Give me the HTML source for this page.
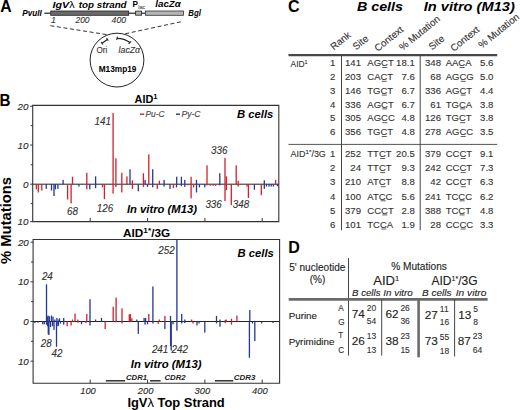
<!DOCTYPE html>
<html><head><meta charset="utf-8"><style>
html,body{margin:0;padding:0;background:#fff;}
svg{display:block;font-family:"Liberation Sans", sans-serif;}
</style></head><body>
<svg width="520" height="410" viewBox="0 0 520 410">
<rect width="520" height="410" fill="#fff"/>
<text x="0.2" y="12" font-size="15.6" font-weight="bold" textLength="11.4" lengthAdjust="spacingAndGlyphs">A</text>
<text x="22.2" y="16.2" font-size="8.2" font-weight="bold" font-style="italic" textLength="19.5" lengthAdjust="spacingAndGlyphs">PvuII</text>
<line x1="44.4" y1="13.2" x2="50.5" y2="13.2" stroke="#222" stroke-width="1.2"/>
<rect x="50.7" y="11" width="78" height="4.3" fill="#6a6a6a" stroke="#222" stroke-width="0.8"/>
<line x1="128.7" y1="13.2" x2="135.6" y2="13.2" stroke="#222" stroke-width="1.2"/>
<rect x="135.6" y="11.1" width="6" height="4.1" fill="#b0b0b0" stroke="#222" stroke-width="0.8"/>
<line x1="141.6" y1="13.2" x2="145.3" y2="13.2" stroke="#222" stroke-width="1.2"/>
<rect x="145.4" y="11" width="38" height="4.3" fill="#b4b4b4" stroke="#333" stroke-width="0.8"/>
<text x="188.3" y="15.8" font-size="8.2" font-weight="bold" font-style="italic" textLength="12.5" lengthAdjust="spacingAndGlyphs">Bgl</text>
<text x="52.5" y="8.1" font-size="9.6" font-weight="bold" font-style="italic" textLength="22" lengthAdjust="spacingAndGlyphs">IgV<tspan font-weight="normal" font-style="normal" stroke-width="0">λ</tspan></text>
<text x="78.8" y="8.1" font-size="9.6" font-weight="bold" font-style="italic" textLength="47.8" lengthAdjust="spacingAndGlyphs">top strand</text>
<text x="132.4" y="7.2" font-size="8.5" font-weight="bold" textLength="5.5" lengthAdjust="spacingAndGlyphs">P</text>
<text x="138.3" y="8.6" font-size="5" stroke="#555" stroke-width="0.12" fill="#555" textLength="7" lengthAdjust="spacingAndGlyphs">lac</text>
<text x="155.3" y="7.4" font-size="9.6" font-weight="bold" font-style="italic" textLength="25.6" lengthAdjust="spacingAndGlyphs">lacZα</text>
<text x="51" y="23.4" font-size="8.8" stroke="#333" stroke-width="0.12" font-style="italic" fill="#333">1</text>
<text x="75.5" y="23.4" font-size="8.8" stroke="#333" stroke-width="0.12" font-style="italic" fill="#333" textLength="14" lengthAdjust="spacingAndGlyphs">200</text>
<text x="111.6" y="23.4" font-size="8.8" stroke="#333" stroke-width="0.12" font-style="italic" fill="#333" textLength="14.4" lengthAdjust="spacingAndGlyphs">400</text>
<line x1="50.4" y1="25.7" x2="106.8" y2="34.6" stroke="#333" stroke-width="1" stroke-dasharray="4 2.6"/>
<line x1="180.8" y1="21.8" x2="124.6" y2="33.9" stroke="#333" stroke-width="1" stroke-dasharray="4 2.6"/>
<circle cx="117" cy="60.1" r="26.9" fill="none" stroke="#222" stroke-width="1"/>
<text x="96.5" y="53" font-size="8.8" stroke="#333" stroke-width="0.12" fill="#333" textLength="10.8" lengthAdjust="spacingAndGlyphs">Ori</text>
<text x="118.6" y="53" font-size="8.8" stroke="#333" stroke-width="0.12" font-style="italic" fill="#333" textLength="21.5" lengthAdjust="spacingAndGlyphs">lacZα</text>
<text x="98.7" y="72" font-size="8.5" font-weight="bold" textLength="37.8" lengthAdjust="spacingAndGlyphs">M13mp19</text>
<path d="M102 43.3 L107.4 39.4" stroke="#222" stroke-width="1.2" fill="none"/>
<path d="M101.1 42.1 L102.9 44.5 M106.5 38.2 L108.3 40.6" stroke="#222" stroke-width="1.1" fill="none"/>
<path d="M117 38.3 Q124 38.2 130 42.6" stroke="#222" stroke-width="1.25" fill="none"/>
<path d="M117.4 36.6 L116.7 40" stroke="#222" stroke-width="1.1" fill="none"/>
<path d="M128.6 43.9 L131.2 41.4" stroke="#222" stroke-width="1.1" fill="none"/>
<text x="-0.6" y="106" font-size="15.6" font-weight="bold" textLength="11" lengthAdjust="spacingAndGlyphs">B</text>
<text x="134.6" y="102.6" font-size="10" font-weight="bold" textLength="23" lengthAdjust="spacingAndGlyphs">AID<tspan font-size="7" dy="-3.5">1</tspan></text>
<text x="237" y="118.3" font-size="11" font-weight="bold" font-style="italic" textLength="36.3" lengthAdjust="spacingAndGlyphs">B cells</text>
<line x1="140" y1="114.2" x2="144.3" y2="114.2" stroke="#d2202e" stroke-width="1.4"/>
<text x="145.5" y="117.2" font-size="8.5" stroke="#444" stroke-width="0.12" font-style="italic" fill="#444" textLength="19" lengthAdjust="spacingAndGlyphs">Pu-C</text>
<line x1="176" y1="114.2" x2="180" y2="114.2" stroke="#25379a" stroke-width="1.4"/>
<text x="181.5" y="117.2" font-size="8.5" stroke="#444" stroke-width="0.12" font-style="italic" fill="#444" textLength="19" lengthAdjust="spacingAndGlyphs">Py-C</text>
<text x="126.9" y="213" font-size="10.5" font-weight="bold" font-style="italic" textLength="70" lengthAdjust="spacingAndGlyphs">In vitro (M13)</text>
<path d="M32.7 105.4 L278.8 105.4 L278.8 221.6 L32.7 221.6 Z" stroke="#333" stroke-width="1.1" fill="none"/>
<path d="M33.1 239.5 L279.6 239.5 L279.6 383.2 L33.1 383.2 Z" stroke="#333" stroke-width="1.1" fill="none"/>
<line x1="30.200000000000003" y1="106.2" x2="32.7" y2="106.2" stroke="#333" stroke-width="1"/>
<text x="28.400000000000002" y="109.60000000000001" font-size="9.8" stroke="#2a2a2a" stroke-width="0.12" font-style="italic" fill="#2a2a2a" text-anchor="end">20</text>
<line x1="30.700000000000003" y1="125.6" x2="32.7" y2="125.6" stroke="#333" stroke-width="1"/>
<line x1="30.200000000000003" y1="145.1" x2="32.7" y2="145.1" stroke="#333" stroke-width="1"/>
<text x="28.400000000000002" y="148.5" font-size="9.8" stroke="#2a2a2a" stroke-width="0.12" font-style="italic" fill="#2a2a2a" text-anchor="end">10</text>
<line x1="30.700000000000003" y1="164.8" x2="32.7" y2="164.8" stroke="#333" stroke-width="1"/>
<line x1="30.200000000000003" y1="184.2" x2="32.7" y2="184.2" stroke="#333" stroke-width="1"/>
<text x="28.400000000000002" y="187.6" font-size="9.8" stroke="#2a2a2a" stroke-width="0.12" font-style="italic" fill="#2a2a2a" text-anchor="end">0</text>
<line x1="30.700000000000003" y1="203.6" x2="32.7" y2="203.6" stroke="#333" stroke-width="1"/>
<line x1="30.200000000000003" y1="221.6" x2="32.7" y2="221.6" stroke="#333" stroke-width="1"/>
<text x="28.400000000000002" y="225.0" font-size="9.8" stroke="#2a2a2a" stroke-width="0.12" font-style="italic" fill="#2a2a2a" text-anchor="end">10</text>
<line x1="30.6" y1="242.2" x2="33.1" y2="242.2" stroke="#333" stroke-width="1"/>
<text x="28.8" y="245.6" font-size="9.8" stroke="#2a2a2a" stroke-width="0.12" font-style="italic" fill="#2a2a2a" text-anchor="end">20</text>
<line x1="31.1" y1="262" x2="33.1" y2="262" stroke="#333" stroke-width="1"/>
<line x1="30.6" y1="281.8" x2="33.1" y2="281.8" stroke="#333" stroke-width="1"/>
<text x="28.8" y="285.2" font-size="9.8" stroke="#2a2a2a" stroke-width="0.12" font-style="italic" fill="#2a2a2a" text-anchor="end">10</text>
<line x1="31.1" y1="301.6" x2="33.1" y2="301.6" stroke="#333" stroke-width="1"/>
<line x1="30.6" y1="321.5" x2="33.1" y2="321.5" stroke="#333" stroke-width="1"/>
<text x="28.8" y="324.9" font-size="9.8" stroke="#2a2a2a" stroke-width="0.12" font-style="italic" fill="#2a2a2a" text-anchor="end">0</text>
<line x1="31.1" y1="341.3" x2="33.1" y2="341.3" stroke="#333" stroke-width="1"/>
<line x1="30.6" y1="361.2" x2="33.1" y2="361.2" stroke="#333" stroke-width="1"/>
<text x="28.8" y="364.59999999999997" font-size="9.8" stroke="#2a2a2a" stroke-width="0.12" font-style="italic" fill="#2a2a2a" text-anchor="end">10</text>
<line x1="90.2" y1="221.6" x2="90.2" y2="218" stroke="#333" stroke-width="1"/>
<line x1="90.2" y1="383.2" x2="90.2" y2="379.6" stroke="#333" stroke-width="1"/>
<line x1="147.6" y1="221.6" x2="147.6" y2="218" stroke="#333" stroke-width="1"/>
<line x1="147.6" y1="383.2" x2="147.6" y2="379.6" stroke="#333" stroke-width="1"/>
<line x1="204.9" y1="221.6" x2="204.9" y2="218" stroke="#333" stroke-width="1"/>
<line x1="204.9" y1="383.2" x2="204.9" y2="379.6" stroke="#333" stroke-width="1"/>
<line x1="262.2" y1="221.6" x2="262.2" y2="218" stroke="#333" stroke-width="1"/>
<line x1="262.2" y1="383.2" x2="262.2" y2="379.6" stroke="#333" stroke-width="1"/>
<text x="88" y="394" font-size="9.3" stroke="#2a2a2a" stroke-width="0.12" font-style="italic" fill="#2a2a2a" text-anchor="middle" textLength="15.6" lengthAdjust="spacingAndGlyphs">100</text>
<text x="145.6" y="394" font-size="9.3" stroke="#2a2a2a" stroke-width="0.12" font-style="italic" fill="#2a2a2a" text-anchor="middle" textLength="15.6" lengthAdjust="spacingAndGlyphs">200</text>
<text x="202.4" y="394" font-size="9.3" stroke="#2a2a2a" stroke-width="0.12" font-style="italic" fill="#2a2a2a" text-anchor="middle" textLength="15.6" lengthAdjust="spacingAndGlyphs">300</text>
<text x="259.8" y="394" font-size="9.3" stroke="#2a2a2a" stroke-width="0.12" font-style="italic" fill="#2a2a2a" text-anchor="middle" textLength="15.6" lengthAdjust="spacingAndGlyphs">400</text>
<line x1="32.7" y1="184.2" x2="278.8" y2="184.2" stroke="#222" stroke-width="1"/>
<line x1="33.1" y1="321.5" x2="279.6" y2="321.5" stroke="#222" stroke-width="1"/>
<text x="123.1" y="236.5" font-size="10" font-weight="bold" textLength="47" lengthAdjust="spacingAndGlyphs">AID<tspan font-size="7" dy="-3.5">1*</tspan><tspan dy="3.5">/3G</tspan></text>
<text x="237.5" y="257" font-size="11" font-weight="bold" font-style="italic" textLength="36.3" lengthAdjust="spacingAndGlyphs">B cells</text>
<text x="130.8" y="367.5" font-size="10.5" font-weight="bold" font-style="italic" textLength="70.7" lengthAdjust="spacingAndGlyphs">In vitro (M13)</text>
<line x1="105.8" y1="380.8" x2="125" y2="380.8" stroke="#222" stroke-width="1.4"/>
<text x="126" y="380.2" font-size="8" font-weight="bold" font-style="italic" fill="#222" textLength="21" lengthAdjust="spacingAndGlyphs">CDR1</text>
<line x1="150" y1="380.8" x2="160.6" y2="380.8" stroke="#222" stroke-width="1.4"/>
<text x="164.4" y="380.2" font-size="8" font-weight="bold" font-style="italic" fill="#222" textLength="21.2" lengthAdjust="spacingAndGlyphs">CDR2</text>
<line x1="215" y1="380.8" x2="233.3" y2="380.8" stroke="#222" stroke-width="1.4"/>
<text x="233.8" y="380.2" font-size="8" font-weight="bold" font-style="italic" fill="#222" textLength="21.6" lengthAdjust="spacingAndGlyphs">CDR3</text>
<text x="127.4" y="407.2" font-size="12.4" font-weight="bold" textLength="97.3" lengthAdjust="spacingAndGlyphs">IgV<tspan font-weight="normal" stroke-width="0.3">λ</tspan> Top Strand</text>
<text x="11" y="264" font-size="14.5" font-weight="bold" textLength="87" lengthAdjust="spacingAndGlyphs" transform="rotate(-90 11 264)">% Mutations</text>
<text x="287.9" y="12.4" font-size="15.6" font-weight="bold" textLength="11.6" lengthAdjust="spacingAndGlyphs">C</text>
<text x="356.9" y="10.8" font-size="13" font-weight="bold" font-style="italic" textLength="46.1" lengthAdjust="spacingAndGlyphs">B cells</text>
<text x="423.8" y="10.6" font-size="13" font-weight="bold" font-style="italic" textLength="91" lengthAdjust="spacingAndGlyphs">In vitro (M13)</text>
<text x="333.8" y="50.5" font-size="9.8" stroke="#333" stroke-width="0.12" fill="#333" transform="rotate(-39 333.8 50.5)">Rank</text>
<text x="356" y="50.4" font-size="9.8" stroke="#333" stroke-width="0.12" fill="#333" transform="rotate(-39 356 50.4)">Site</text>
<text x="377.8" y="52" font-size="9.8" stroke="#333" stroke-width="0.12" fill="#333" transform="rotate(-39 377.8 52)">Context</text>
<text x="402.6" y="51" font-size="9.8" stroke="#333" stroke-width="0.12" fill="#333" transform="rotate(-39 402.6 51)">% Mutation</text>
<text x="432" y="50.4" font-size="9.8" stroke="#333" stroke-width="0.12" fill="#333" transform="rotate(-39 432 50.4)">Site</text>
<text x="453.8" y="52" font-size="9.8" stroke="#333" stroke-width="0.12" fill="#333" transform="rotate(-39 453.8 52)">Context</text>
<text x="481.8" y="48.8" font-size="9.8" stroke="#333" stroke-width="0.12" fill="#333" transform="rotate(-39 481.8 48.8)">% Mutation</text>
<line x1="288.5" y1="55.2" x2="497.2" y2="55.2" stroke="#484848" stroke-width="2.3"/>
<line x1="288.5" y1="144.4" x2="497.2" y2="144.4" stroke="#555" stroke-width="1"/>
<line x1="341.5" y1="55.3" x2="341.5" y2="230.2" stroke="#444" stroke-width="1"/>
<line x1="420.2" y1="55.3" x2="420.2" y2="230.2" stroke="#444" stroke-width="1"/>
<text x="290.6" y="67" font-size="8.5" stroke="#333" stroke-width="0.12" fill="#333" textLength="17" lengthAdjust="spacingAndGlyphs">AID<tspan font-size="5.5" dy="-3.2">1</tspan></text>
<text x="290.6" y="157.2" font-size="8.5" stroke="#333" stroke-width="0.12" fill="#333" textLength="35.2" lengthAdjust="spacingAndGlyphs">AID<tspan font-size="6" dy="-3.2">1*</tspan><tspan dy="3.2">/3G</tspan></text>
<text x="335.4" y="66.2" font-size="9.6" stroke="#333" stroke-width="0.12" fill="#333" text-anchor="end">1</text>
<text x="361" y="66.2" font-size="9.6" stroke="#333" stroke-width="0.12" fill="#333" text-anchor="end">141</text>
<text x="367.3" y="66.2" font-size="9.5" stroke="#333" stroke-width="0.12" fill="#333">AGCT</text>
<line x1="382.33" y1="67.5" x2="387.29" y2="67.5" stroke="#333" stroke-width="0.8"/>
<text x="414.8" y="66.2" font-size="9.6" stroke="#333" stroke-width="0.12" fill="#333" text-anchor="end">18.1</text>
<text x="441" y="66.2" font-size="9.6" stroke="#333" stroke-width="0.12" fill="#333" text-anchor="end">348</text>
<text x="445.7" y="66.2" font-size="9.5" stroke="#333" stroke-width="0.12" fill="#333">AACA</text>
<line x1="459.67" y1="67.5" x2="464.63" y2="67.5" stroke="#333" stroke-width="0.8"/>
<text x="493.4" y="66.2" font-size="9.6" stroke="#333" stroke-width="0.12" fill="#333" text-anchor="end">5.6</text>
<text x="335.4" y="80.0" font-size="9.6" stroke="#333" stroke-width="0.12" fill="#333" text-anchor="end">2</text>
<text x="361" y="80.0" font-size="9.6" stroke="#333" stroke-width="0.12" fill="#333" text-anchor="end">203</text>
<text x="367.3" y="80.0" font-size="9.5" stroke="#333" stroke-width="0.12" fill="#333">CACT</text>
<line x1="381.8" y1="81.3" x2="386.75" y2="81.3" stroke="#333" stroke-width="0.8"/>
<text x="414.8" y="80.0" font-size="9.6" stroke="#333" stroke-width="0.12" fill="#333" text-anchor="end">7.6</text>
<text x="441" y="80.0" font-size="9.6" stroke="#333" stroke-width="0.12" fill="#333" text-anchor="end">68</text>
<text x="445.7" y="80.0" font-size="9.5" stroke="#333" stroke-width="0.12" fill="#333">AGCG</text>
<line x1="460.73" y1="81.3" x2="465.69" y2="81.3" stroke="#333" stroke-width="0.8"/>
<text x="493.4" y="80.0" font-size="9.6" stroke="#333" stroke-width="0.12" fill="#333" text-anchor="end">5.0</text>
<text x="335.4" y="93.80000000000001" font-size="9.6" stroke="#333" stroke-width="0.12" fill="#333" text-anchor="end">3</text>
<text x="361" y="93.80000000000001" font-size="9.6" stroke="#333" stroke-width="0.12" fill="#333" text-anchor="end">146</text>
<text x="367.3" y="93.80000000000001" font-size="9.5" stroke="#333" stroke-width="0.12" fill="#333">TGCT</text>
<line x1="381.8" y1="95.10000000000001" x2="386.75" y2="95.10000000000001" stroke="#333" stroke-width="0.8"/>
<text x="414.8" y="93.80000000000001" font-size="9.6" stroke="#333" stroke-width="0.12" fill="#333" text-anchor="end">6.7</text>
<text x="441" y="93.80000000000001" font-size="9.6" stroke="#333" stroke-width="0.12" fill="#333" text-anchor="end">336</text>
<text x="445.7" y="93.80000000000001" font-size="9.5" stroke="#333" stroke-width="0.12" fill="#333">AGCT</text>
<line x1="460.73" y1="95.10000000000001" x2="465.69" y2="95.10000000000001" stroke="#333" stroke-width="0.8"/>
<text x="493.4" y="93.80000000000001" font-size="9.6" stroke="#333" stroke-width="0.12" fill="#333" text-anchor="end">4.4</text>
<text x="335.4" y="107.60000000000001" font-size="9.6" stroke="#333" stroke-width="0.12" fill="#333" text-anchor="end">4</text>
<text x="361" y="107.60000000000001" font-size="9.6" stroke="#333" stroke-width="0.12" fill="#333" text-anchor="end">336</text>
<text x="367.3" y="107.60000000000001" font-size="9.5" stroke="#333" stroke-width="0.12" fill="#333">AGCT</text>
<line x1="382.33" y1="108.9" x2="387.29" y2="108.9" stroke="#333" stroke-width="0.8"/>
<text x="414.8" y="107.60000000000001" font-size="9.6" stroke="#333" stroke-width="0.12" fill="#333" text-anchor="end">6.7</text>
<text x="441" y="107.60000000000001" font-size="9.6" stroke="#333" stroke-width="0.12" fill="#333" text-anchor="end">61</text>
<text x="445.7" y="107.60000000000001" font-size="9.5" stroke="#333" stroke-width="0.12" fill="#333">TGCA</text>
<line x1="460.2" y1="108.9" x2="465.15" y2="108.9" stroke="#333" stroke-width="0.8"/>
<text x="493.4" y="107.60000000000001" font-size="9.6" stroke="#333" stroke-width="0.12" fill="#333" text-anchor="end">3.8</text>
<text x="335.4" y="121.4" font-size="9.6" stroke="#333" stroke-width="0.12" fill="#333" text-anchor="end">5</text>
<text x="361" y="121.4" font-size="9.6" stroke="#333" stroke-width="0.12" fill="#333" text-anchor="end">305</text>
<text x="367.3" y="121.4" font-size="9.5" stroke="#333" stroke-width="0.12" fill="#333">AGCC</text>
<line x1="382.33" y1="122.7" x2="387.29" y2="122.7" stroke="#333" stroke-width="0.8"/>
<text x="414.8" y="121.4" font-size="9.6" stroke="#333" stroke-width="0.12" fill="#333" text-anchor="end">4.8</text>
<text x="441" y="121.4" font-size="9.6" stroke="#333" stroke-width="0.12" fill="#333" text-anchor="end">126</text>
<text x="445.7" y="121.4" font-size="9.5" stroke="#333" stroke-width="0.12" fill="#333">TGCT</text>
<line x1="460.2" y1="122.7" x2="465.15" y2="122.7" stroke="#333" stroke-width="0.8"/>
<text x="493.4" y="121.4" font-size="9.6" stroke="#333" stroke-width="0.12" fill="#333" text-anchor="end">3.8</text>
<text x="335.4" y="135.2" font-size="9.6" stroke="#333" stroke-width="0.12" fill="#333" text-anchor="end">6</text>
<text x="361" y="135.2" font-size="9.6" stroke="#333" stroke-width="0.12" fill="#333" text-anchor="end">356</text>
<text x="367.3" y="135.2" font-size="9.5" stroke="#333" stroke-width="0.12" fill="#333">TGCT</text>
<line x1="381.8" y1="136.5" x2="386.75" y2="136.5" stroke="#333" stroke-width="0.8"/>
<text x="414.8" y="135.2" font-size="9.6" stroke="#333" stroke-width="0.12" fill="#333" text-anchor="end">4.8</text>
<text x="441" y="135.2" font-size="9.6" stroke="#333" stroke-width="0.12" fill="#333" text-anchor="end">278</text>
<text x="445.7" y="135.2" font-size="9.5" stroke="#333" stroke-width="0.12" fill="#333">AGCC</text>
<line x1="460.73" y1="136.5" x2="465.69" y2="136.5" stroke="#333" stroke-width="0.8"/>
<text x="493.4" y="135.2" font-size="9.6" stroke="#333" stroke-width="0.12" fill="#333" text-anchor="end">3.5</text>
<text x="335.4" y="157.2" font-size="9.6" stroke="#333" stroke-width="0.12" fill="#333" text-anchor="end">1</text>
<text x="361" y="157.2" font-size="9.6" stroke="#333" stroke-width="0.12" fill="#333" text-anchor="end">252</text>
<text x="367.3" y="157.2" font-size="9.5" stroke="#333" stroke-width="0.12" fill="#333">TTCT</text>
<line x1="380.21" y1="158.5" x2="385.17" y2="158.5" stroke="#333" stroke-width="0.8"/>
<text x="414.8" y="157.2" font-size="9.6" stroke="#333" stroke-width="0.12" fill="#333" text-anchor="end">20.5</text>
<text x="441" y="157.2" font-size="9.6" stroke="#333" stroke-width="0.12" fill="#333" text-anchor="end">379</text>
<text x="445.7" y="157.2" font-size="9.5" stroke="#333" stroke-width="0.12" fill="#333">CCCT</text>
<line x1="460.72" y1="158.5" x2="465.68" y2="158.5" stroke="#333" stroke-width="0.8"/>
<text x="493.4" y="157.2" font-size="9.6" stroke="#333" stroke-width="0.12" fill="#333" text-anchor="end">9.1</text>
<text x="335.4" y="171.29999999999998" font-size="9.6" stroke="#333" stroke-width="0.12" fill="#333" text-anchor="end">2</text>
<text x="361" y="171.29999999999998" font-size="9.6" stroke="#333" stroke-width="0.12" fill="#333" text-anchor="end">24</text>
<text x="367.3" y="171.29999999999998" font-size="9.5" stroke="#333" stroke-width="0.12" fill="#333">TTCT</text>
<line x1="380.21" y1="172.6" x2="385.17" y2="172.6" stroke="#333" stroke-width="0.8"/>
<text x="414.8" y="171.29999999999998" font-size="9.6" stroke="#333" stroke-width="0.12" fill="#333" text-anchor="end">9.3</text>
<text x="441" y="171.29999999999998" font-size="9.6" stroke="#333" stroke-width="0.12" fill="#333" text-anchor="end">242</text>
<text x="445.7" y="171.29999999999998" font-size="9.5" stroke="#333" stroke-width="0.12" fill="#333">CCCT</text>
<line x1="460.72" y1="172.6" x2="465.68" y2="172.6" stroke="#333" stroke-width="0.8"/>
<text x="493.4" y="171.29999999999998" font-size="9.6" stroke="#333" stroke-width="0.12" fill="#333" text-anchor="end">7.3</text>
<text x="335.4" y="185.39999999999998" font-size="9.6" stroke="#333" stroke-width="0.12" fill="#333" text-anchor="end">3</text>
<text x="361" y="185.39999999999998" font-size="9.6" stroke="#333" stroke-width="0.12" fill="#333" text-anchor="end">210</text>
<text x="367.3" y="185.39999999999998" font-size="9.5" stroke="#333" stroke-width="0.12" fill="#333">ATCT</text>
<line x1="380.74" y1="186.7" x2="385.7" y2="186.7" stroke="#333" stroke-width="0.8"/>
<text x="414.8" y="185.39999999999998" font-size="9.6" stroke="#333" stroke-width="0.12" fill="#333" text-anchor="end">8.8</text>
<text x="441" y="185.39999999999998" font-size="9.6" stroke="#333" stroke-width="0.12" fill="#333" text-anchor="end">42</text>
<text x="445.7" y="185.39999999999998" font-size="9.5" stroke="#333" stroke-width="0.12" fill="#333">CCCT</text>
<line x1="460.72" y1="186.7" x2="465.68" y2="186.7" stroke="#333" stroke-width="0.8"/>
<text x="493.4" y="185.39999999999998" font-size="9.6" stroke="#333" stroke-width="0.12" fill="#333" text-anchor="end">6.3</text>
<text x="335.4" y="199.5" font-size="9.6" stroke="#333" stroke-width="0.12" fill="#333" text-anchor="end">4</text>
<text x="361" y="199.5" font-size="9.6" stroke="#333" stroke-width="0.12" fill="#333" text-anchor="end">100</text>
<text x="367.3" y="199.5" font-size="9.5" stroke="#333" stroke-width="0.12" fill="#333">ATCC</text>
<line x1="380.74" y1="200.8" x2="385.7" y2="200.8" stroke="#333" stroke-width="0.8"/>
<text x="414.8" y="199.5" font-size="9.6" stroke="#333" stroke-width="0.12" fill="#333" text-anchor="end">5.6</text>
<text x="441" y="199.5" font-size="9.6" stroke="#333" stroke-width="0.12" fill="#333" text-anchor="end">241</text>
<text x="445.7" y="199.5" font-size="9.5" stroke="#333" stroke-width="0.12" fill="#333">TCCC</text>
<line x1="459.66" y1="200.8" x2="464.62" y2="200.8" stroke="#333" stroke-width="0.8"/>
<text x="493.4" y="199.5" font-size="9.6" stroke="#333" stroke-width="0.12" fill="#333" text-anchor="end">6.2</text>
<text x="335.4" y="213.6" font-size="9.6" stroke="#333" stroke-width="0.12" fill="#333" text-anchor="end">5</text>
<text x="361" y="213.6" font-size="9.6" stroke="#333" stroke-width="0.12" fill="#333" text-anchor="end">379</text>
<text x="367.3" y="213.6" font-size="9.5" stroke="#333" stroke-width="0.12" fill="#333">CCCT</text>
<line x1="382.32" y1="214.9" x2="387.28" y2="214.9" stroke="#333" stroke-width="0.8"/>
<text x="414.8" y="213.6" font-size="9.6" stroke="#333" stroke-width="0.12" fill="#333" text-anchor="end">2.8</text>
<text x="441" y="213.6" font-size="9.6" stroke="#333" stroke-width="0.12" fill="#333" text-anchor="end">388</text>
<text x="445.7" y="213.6" font-size="9.5" stroke="#333" stroke-width="0.12" fill="#333">TCCT</text>
<line x1="459.66" y1="214.9" x2="464.62" y2="214.9" stroke="#333" stroke-width="0.8"/>
<text x="493.4" y="213.6" font-size="9.6" stroke="#333" stroke-width="0.12" fill="#333" text-anchor="end">4.8</text>
<text x="335.4" y="227.7" font-size="9.6" stroke="#333" stroke-width="0.12" fill="#333" text-anchor="end">6</text>
<text x="361" y="227.7" font-size="9.6" stroke="#333" stroke-width="0.12" fill="#333" text-anchor="end">101</text>
<text x="367.3" y="227.7" font-size="9.5" stroke="#333" stroke-width="0.12" fill="#333">TCCA</text>
<line x1="381.26" y1="229.0" x2="386.22" y2="229.0" stroke="#333" stroke-width="0.8"/>
<text x="414.8" y="227.7" font-size="9.6" stroke="#333" stroke-width="0.12" fill="#333" text-anchor="end">1.9</text>
<text x="441" y="227.7" font-size="9.6" stroke="#333" stroke-width="0.12" fill="#333" text-anchor="end">28</text>
<text x="445.7" y="227.7" font-size="9.5" stroke="#333" stroke-width="0.12" fill="#333">CCCC</text>
<line x1="460.72" y1="229.0" x2="465.68" y2="229.0" stroke="#333" stroke-width="0.8"/>
<text x="493.4" y="227.7" font-size="9.6" stroke="#333" stroke-width="0.12" fill="#333" text-anchor="end">3.3</text>
<text x="288.3" y="252.7" font-size="15.6" font-weight="bold" textLength="11.6" lengthAdjust="spacingAndGlyphs">D</text>
<text x="289.2" y="270.6" font-size="10" stroke="#222" stroke-width="0.12" fill="#222" textLength="56.2" lengthAdjust="spacingAndGlyphs">5' nucleotide</text>
<text x="317.5" y="283" font-size="10" stroke="#222" stroke-width="0.12" fill="#222" text-anchor="middle">(%)</text>
<text x="391.2" y="270" font-size="10" stroke="#222" stroke-width="0.12" fill="#222" textLength="55.7" lengthAdjust="spacingAndGlyphs">% Mutations</text>
<text x="373.3" y="285" font-size="12" stroke="#222" stroke-width="0.12" fill="#222" textLength="26" lengthAdjust="spacingAndGlyphs">AID<tspan font-size="7" dy="-4.5">1</tspan></text>
<text x="431.5" y="285" font-size="12" stroke="#222" stroke-width="0.12" fill="#222" textLength="46" lengthAdjust="spacingAndGlyphs">AID<tspan font-size="7" dy="-4.5">1*</tspan><tspan dy="4.5">/3G</tspan></text>
<text x="352" y="296" font-size="9.6" stroke="#222" stroke-width="0.12" font-style="italic" fill="#222" textLength="28.5" lengthAdjust="spacingAndGlyphs">B cells</text>
<text x="383.3" y="296" font-size="9.6" stroke="#222" stroke-width="0.12" font-style="italic" fill="#222" textLength="29.5" lengthAdjust="spacingAndGlyphs">In vitro</text>
<text x="422" y="296" font-size="9.6" stroke="#222" stroke-width="0.12" font-style="italic" fill="#222" textLength="29.5" lengthAdjust="spacingAndGlyphs">B cells</text>
<text x="455.8" y="296" font-size="9.6" stroke="#222" stroke-width="0.12" font-style="italic" fill="#222" textLength="30.5" lengthAdjust="spacingAndGlyphs">In vitro</text>
<line x1="348.5" y1="258" x2="348.5" y2="355.6" stroke="#444" stroke-width="1"/>
<line x1="288.7" y1="299.4" x2="487.6" y2="299.4" stroke="#6a6a6a" stroke-width="2.6"/>
<line x1="381.7" y1="299.2" x2="381.7" y2="355.6" stroke="#444" stroke-width="1"/>
<line x1="418.6" y1="299.4" x2="418.6" y2="357.3" stroke="#6a6a6a" stroke-width="2.6"/>
<line x1="454.6" y1="299.2" x2="454.6" y2="356.5" stroke="#444" stroke-width="1"/>
<text x="288.7" y="318.5" font-size="9.8" stroke="#222" stroke-width="0.12" fill="#222">Purine</text>
<text x="288.7" y="344.8" font-size="9.8" stroke="#222" stroke-width="0.12" fill="#222">Pyrimidine</text>
<text x="338.3" y="310.8" font-size="8.2" stroke="#333" stroke-width="0.12" fill="#333">A</text>
<text x="338.3" y="324.6" font-size="8.2" stroke="#333" stroke-width="0.12" fill="#333">G</text>
<text x="338.3" y="338.3" font-size="8.2" stroke="#333" stroke-width="0.12" fill="#333">T</text>
<text x="338.3" y="352.7" font-size="8.2" stroke="#333" stroke-width="0.12" fill="#333">C</text>
<text x="351.8" y="317.9" font-size="11.8" stroke="#222" stroke-width="0.12" fill="#222">74</text>
<text x="366.8" y="311.2" font-size="8.5" stroke="#333" stroke-width="0.12" fill="#333">20</text>
<text x="366.8" y="324.2" font-size="8.5" stroke="#333" stroke-width="0.12" fill="#333">54</text>
<text x="385.4" y="317.9" font-size="11.8" stroke="#222" stroke-width="0.12" fill="#222">62</text>
<text x="400.4" y="311.2" font-size="8.5" stroke="#333" stroke-width="0.12" fill="#333">26</text>
<text x="400.4" y="324.2" font-size="8.5" stroke="#333" stroke-width="0.12" fill="#333">36</text>
<text x="424.8" y="318.5" font-size="11.8" stroke="#222" stroke-width="0.12" fill="#222">27</text>
<text x="439.8" y="312" font-size="8.5" stroke="#333" stroke-width="0.12" fill="#333">11</text>
<text x="439.8" y="325" font-size="8.5" stroke="#333" stroke-width="0.12" fill="#333">16</text>
<text x="458.3" y="318.5" font-size="11.8" stroke="#222" stroke-width="0.12" fill="#222">13</text>
<text x="473.3" y="311.5" font-size="8.5" stroke="#333" stroke-width="0.12" fill="#333">5</text>
<text x="473.3" y="324.5" font-size="8.5" stroke="#333" stroke-width="0.12" fill="#333">8</text>
<text x="351.8" y="344.6" font-size="11.8" stroke="#222" stroke-width="0.12" fill="#222">26</text>
<text x="366.8" y="338.8" font-size="8.5" stroke="#333" stroke-width="0.12" fill="#333">13</text>
<text x="366.8" y="352.7" font-size="8.5" stroke="#333" stroke-width="0.12" fill="#333">13</text>
<text x="385.4" y="344.6" font-size="11.8" stroke="#222" stroke-width="0.12" fill="#222">38</text>
<text x="400.4" y="338.8" font-size="8.5" stroke="#333" stroke-width="0.12" fill="#333">23</text>
<text x="400.4" y="352.7" font-size="8.5" stroke="#333" stroke-width="0.12" fill="#333">15</text>
<text x="424.8" y="344.6" font-size="11.8" stroke="#222" stroke-width="0.12" fill="#222">73</text>
<text x="439.8" y="339.9" font-size="8.5" stroke="#333" stroke-width="0.12" fill="#333">55</text>
<text x="439.8" y="353.5" font-size="8.5" stroke="#333" stroke-width="0.12" fill="#333">18</text>
<text x="457.7" y="344.6" font-size="11.8" stroke="#222" stroke-width="0.12" fill="#222">87</text>
<text x="472.7" y="339.3" font-size="8.5" stroke="#333" stroke-width="0.12" fill="#333">23</text>
<text x="472.7" y="353.3" font-size="8.5" stroke="#333" stroke-width="0.12" fill="#333">64</text>
<rect x="35.75" y="184.2" width="1.3" height="5.109" fill="#d2202e"/>
<rect x="37.65" y="184.2" width="1.3" height="8.253" fill="#d2202e"/>
<rect x="41.15" y="184.2" width="1.3" height="6.288" fill="#d2202e"/>
<rect x="45.550000000000004" y="184.2" width="1.3" height="4.716" fill="#25379a"/>
<rect x="50.85" y="184.2" width="1.3" height="6.288" fill="#25379a"/>
<rect x="53.35" y="184.2" width="1.3" height="11.790000000000001" fill="#25379a"/>
<rect x="54.75" y="184.2" width="1.3" height="5.109" fill="#25379a"/>
<rect x="57.25" y="184.2" width="1.3" height="4.716" fill="#25379a"/>
<rect x="66.94999999999999" y="184.2" width="1.3" height="15.327" fill="#d2202e"/>
<rect x="70.44999999999999" y="184.2" width="1.3" height="19.257" fill="#d2202e"/>
<rect x="78.25" y="184.2" width="1.3" height="2.358" fill="#25379a"/>
<rect x="86.14999999999999" y="184.2" width="1.3" height="5.109" fill="#d2202e"/>
<rect x="89.14999999999999" y="184.2" width="1.3" height="5.109" fill="#25379a"/>
<rect x="94.94999999999999" y="184.2" width="1.3" height="3.93" fill="#25379a"/>
<rect x="101.85" y="184.2" width="1.3" height="3.144" fill="#d2202e"/>
<rect x="103.75" y="184.2" width="1.3" height="14.934" fill="#d2202e"/>
<rect x="112.44999999999999" y="184.2" width="1.3" height="9.432" fill="#d2202e"/>
<rect x="115.25" y="184.2" width="1.3" height="2.751" fill="#d2202e"/>
<rect x="121.14999999999999" y="184.2" width="1.3" height="8.253" fill="#d2202e"/>
<rect x="131.75" y="184.2" width="1.3" height="4.716" fill="#d2202e"/>
<rect x="137.65" y="184.2" width="1.3" height="7.074000000000001" fill="#25379a"/>
<rect x="142.75" y="184.2" width="1.3" height="2.751" fill="#d2202e"/>
<rect x="146.85" y="184.2" width="1.3" height="2.751" fill="#25379a"/>
<rect x="152.04999999999998" y="184.2" width="1.3" height="3.144" fill="#25379a"/>
<rect x="156.65" y="184.2" width="1.3" height="4.716" fill="#d2202e"/>
<rect x="163.45" y="184.2" width="1.3" height="2.358" fill="#25379a"/>
<rect x="169.35" y="184.2" width="1.3" height="4.716" fill="#25379a"/>
<rect x="172.75" y="184.2" width="1.3" height="3.93" fill="#d2202e"/>
<rect x="175.85" y="184.2" width="1.3" height="3.144" fill="#25379a"/>
<rect x="180.75" y="184.2" width="1.3" height="1.965" fill="#25379a"/>
<rect x="184.15" y="184.2" width="1.3" height="2.751" fill="#25379a"/>
<rect x="187.35" y="184.2" width="1.3" height="1.179" fill="#d2202e"/>
<rect x="190.45" y="184.2" width="1.3" height="14.148000000000001" fill="#d2202e"/>
<rect x="192.95" y="184.2" width="1.3" height="3.144" fill="#d2202e"/>
<rect x="195.85" y="184.2" width="1.3" height="8.253" fill="#25379a"/>
<rect x="198.75" y="184.2" width="1.3" height="3.144" fill="#25379a"/>
<rect x="204.15" y="184.2" width="1.3" height="3.144" fill="#25379a"/>
<rect x="206.35" y="184.2" width="1.3" height="1.179" fill="#d2202e"/>
<rect x="209.54999999999998" y="184.2" width="1.3" height="1.572" fill="#d2202e"/>
<rect x="212.45" y="184.2" width="1.3" height="1.572" fill="#d2202e"/>
<rect x="214.95" y="184.2" width="1.3" height="1.572" fill="#d2202e"/>
<rect x="219.15" y="184.2" width="1.3" height="1.179" fill="#25379a"/>
<rect x="224.35" y="184.2" width="1.3" height="16.899" fill="#d2202e"/>
<rect x="225.75" y="184.2" width="1.3" height="5.8950000000000005" fill="#d2202e"/>
<rect x="230.65" y="184.2" width="1.3" height="20.829" fill="#d2202e"/>
<rect x="237.54999999999998" y="184.2" width="1.3" height="2.358" fill="#d2202e"/>
<rect x="246.35" y="184.2" width="1.3" height="2.358" fill="#d2202e"/>
<rect x="247.75" y="184.2" width="1.3" height="13.755" fill="#d2202e"/>
<rect x="253.75" y="184.2" width="1.3" height="5.502" fill="#25379a"/>
<rect x="260.65000000000003" y="184.2" width="1.3" height="11.004" fill="#d2202e"/>
<rect x="263.65000000000003" y="184.2" width="1.3" height="4.716" fill="#25379a"/>
<rect x="265.85" y="184.2" width="1.3" height="2.358" fill="#25379a"/>
<rect x="268.35" y="184.2" width="1.3" height="2.358" fill="#25379a"/>
<rect x="270.55" y="184.2" width="1.3" height="2.358" fill="#25379a"/>
<rect x="272.75" y="184.2" width="1.3" height="2.358" fill="#25379a"/>
<rect x="276.75" y="184.2" width="1.3" height="1.965" fill="#25379a"/>
<rect x="62.45" y="179.87699999999998" width="1.3" height="4.323" fill="#25379a"/>
<rect x="71.85" y="176.73299999999998" width="1.3" height="7.467" fill="#d2202e"/>
<rect x="86.14999999999999" y="172.803" width="1.3" height="11.397" fill="#d2202e"/>
<rect x="94.94999999999999" y="176.33999999999997" width="1.3" height="7.86" fill="#25379a"/>
<rect x="112.44999999999999" y="113.06699999999998" width="1.3" height="71.13300000000001" fill="#d2202e"/>
<rect x="115.25" y="158.262" width="1.3" height="25.938" fill="#d2202e"/>
<rect x="121.14999999999999" y="172.803" width="1.3" height="11.397" fill="#d2202e"/>
<rect x="126.25" y="176.33999999999997" width="1.3" height="7.86" fill="#d2202e"/>
<rect x="129.35" y="169.266" width="1.3" height="14.934" fill="#25379a"/>
<rect x="131.75" y="180.26999999999998" width="1.3" height="3.93" fill="#d2202e"/>
<rect x="142.75" y="173.196" width="1.3" height="11.004" fill="#d2202e"/>
<rect x="144.45" y="179.87699999999998" width="1.3" height="4.323" fill="#25379a"/>
<rect x="148.15" y="154.332" width="1.3" height="29.868" fill="#d2202e"/>
<rect x="152.04999999999998" y="169.266" width="1.3" height="14.934" fill="#25379a"/>
<rect x="158.75" y="180.66299999999998" width="1.3" height="3.5370000000000004" fill="#d2202e"/>
<rect x="163.45" y="179.87699999999998" width="1.3" height="4.323" fill="#25379a"/>
<rect x="176.04999999999998" y="176.73299999999998" width="1.3" height="7.467" fill="#25379a"/>
<rect x="180.75" y="176.73299999999998" width="1.3" height="7.467" fill="#25379a"/>
<rect x="184.15" y="179.87699999999998" width="1.3" height="4.323" fill="#25379a"/>
<rect x="190.45" y="176.73299999999998" width="1.3" height="7.467" fill="#d2202e"/>
<rect x="195.85" y="179.87699999999998" width="1.3" height="4.323" fill="#25379a"/>
<rect x="206.35" y="165.33599999999998" width="1.3" height="18.864" fill="#d2202e"/>
<rect x="219.15" y="173.196" width="1.3" height="11.004" fill="#25379a"/>
<rect x="224.35" y="157.86899999999997" width="1.3" height="26.331000000000003" fill="#d2202e"/>
<rect x="225.75" y="176.33999999999997" width="1.3" height="7.86" fill="#d2202e"/>
<rect x="235.54999999999998" y="165.33599999999998" width="1.3" height="18.864" fill="#d2202e"/>
<rect x="237.54999999999998" y="180.66299999999998" width="1.3" height="3.5370000000000004" fill="#d2202e"/>
<rect x="263.65000000000003" y="180.26999999999998" width="1.3" height="3.93" fill="#25379a"/>
<rect x="274.95000000000005" y="179.87699999999998" width="1.3" height="4.323" fill="#d2202e"/>
<rect x="45.85" y="284.287" width="1.3" height="37.213" fill="#25379a"/>
<rect x="47.45" y="315.53" width="1.3" height="5.97" fill="#25379a"/>
<rect x="48.75" y="316.326" width="1.3" height="5.174" fill="#25379a"/>
<rect x="50.85" y="315.53" width="1.3" height="5.97" fill="#25379a"/>
<rect x="54.25" y="319.51" width="1.3" height="1.99" fill="#25379a"/>
<rect x="56.25" y="317.918" width="1.3" height="3.582" fill="#25379a"/>
<rect x="58.25" y="319.51" width="1.3" height="1.99" fill="#25379a"/>
<rect x="63.050000000000004" y="317.918" width="1.3" height="3.582" fill="#25379a"/>
<rect x="71.85" y="319.51" width="1.3" height="1.99" fill="#d2202e"/>
<rect x="74.35" y="313.54" width="1.3" height="7.96" fill="#d2202e"/>
<rect x="77.25" y="319.51" width="1.3" height="1.99" fill="#d2202e"/>
<rect x="86.14999999999999" y="313.938" width="1.3" height="7.561999999999999" fill="#d2202e"/>
<rect x="89.35" y="299.212" width="1.3" height="22.288" fill="#25379a"/>
<rect x="94.94999999999999" y="319.51" width="1.3" height="1.99" fill="#25379a"/>
<rect x="100.85" y="317.918" width="1.3" height="3.582" fill="#25379a"/>
<rect x="112.55" y="306.774" width="1.3" height="14.726" fill="#d2202e"/>
<rect x="115.44999999999999" y="297.62" width="1.3" height="23.88" fill="#d2202e"/>
<rect x="121.35" y="308.366" width="1.3" height="13.133999999999999" fill="#d2202e"/>
<rect x="128.65" y="314.336" width="1.3" height="7.164" fill="#d2202e"/>
<rect x="129.75" y="313.938" width="1.3" height="7.561999999999999" fill="#d2202e"/>
<rect x="131.25" y="318.316" width="1.3" height="3.184" fill="#d2202e"/>
<rect x="136.15" y="319.51" width="1.3" height="1.99" fill="#25379a"/>
<rect x="143.45" y="317.918" width="1.3" height="3.582" fill="#25379a"/>
<rect x="144.95" y="317.918" width="1.3" height="3.582" fill="#25379a"/>
<rect x="148.15" y="313.938" width="1.3" height="7.561999999999999" fill="#d2202e"/>
<rect x="152.25" y="286.476" width="1.3" height="35.024" fill="#25379a"/>
<rect x="158.65" y="319.51" width="1.3" height="1.99" fill="#d2202e"/>
<rect x="164.25" y="315.928" width="1.3" height="5.572" fill="#d2202e"/>
<rect x="169.85" y="315.928" width="1.3" height="5.572" fill="#25379a"/>
<rect x="176.25" y="239.91" width="1.3" height="81.59" fill="#25379a"/>
<rect x="181.04999999999998" y="313.938" width="1.3" height="7.561999999999999" fill="#25379a"/>
<rect x="184.15" y="319.51" width="1.3" height="1.99" fill="#25379a"/>
<rect x="190.95" y="319.51" width="1.3" height="1.99" fill="#d2202e"/>
<rect x="215.85" y="315.928" width="1.3" height="5.572" fill="#25379a"/>
<rect x="219.35" y="319.51" width="1.3" height="1.99" fill="#25379a"/>
<rect x="224.65" y="319.908" width="1.3" height="1.592" fill="#d2202e"/>
<rect x="225.54999999999998" y="319.51" width="1.3" height="1.99" fill="#d2202e"/>
<rect x="230.85" y="318.714" width="1.3" height="2.786" fill="#d2202e"/>
<rect x="236.25" y="315.53" width="1.3" height="5.97" fill="#d2202e"/>
<rect x="249.15" y="309.958" width="1.3" height="11.542" fill="#25379a"/>
<rect x="52.35" y="316.724" width="1.3" height="4.776" fill="#25379a"/>
<rect x="58.85" y="318.316" width="1.3" height="3.184" fill="#25379a"/>
<rect x="46.75" y="316.724" width="1.3" height="4.776" fill="#25379a"/>
<rect x="34.25" y="321.5" width="1.3" height="1.592" fill="#25379a"/>
<rect x="37.35" y="321.5" width="1.3" height="1.194" fill="#25379a"/>
<rect x="42.050000000000004" y="321.5" width="1.3" height="2.786" fill="#25379a"/>
<rect x="45.85" y="321.5" width="1.3" height="3.184" fill="#25379a"/>
<rect x="48.25" y="321.5" width="1.3" height="13.532" fill="#25379a"/>
<rect x="49.85" y="321.5" width="1.3" height="5.572" fill="#25379a"/>
<rect x="53.35" y="321.5" width="1.3" height="8.358" fill="#25379a"/>
<rect x="55.85" y="321.5" width="1.3" height="25.273" fill="#25379a"/>
<rect x="57.25" y="321.5" width="1.3" height="4.776" fill="#25379a"/>
<rect x="63.050000000000004" y="321.5" width="1.3" height="3.184" fill="#25379a"/>
<rect x="66.55" y="321.5" width="1.3" height="4.776" fill="#d2202e"/>
<rect x="70.44999999999999" y="321.5" width="1.3" height="3.98" fill="#d2202e"/>
<rect x="77.25" y="321.5" width="1.3" height="1.194" fill="#d2202e"/>
<rect x="80.85" y="321.5" width="1.3" height="2.786" fill="#25379a"/>
<rect x="85.25" y="321.5" width="1.3" height="1.592" fill="#d2202e"/>
<rect x="89.35" y="321.5" width="1.3" height="3.98" fill="#25379a"/>
<rect x="104.55" y="321.5" width="1.3" height="7.561999999999999" fill="#d2202e"/>
<rect x="115.44999999999999" y="321.5" width="1.3" height="0.796" fill="#d2202e"/>
<rect x="121.35" y="321.5" width="1.3" height="1.99" fill="#d2202e"/>
<rect x="137.65" y="321.5" width="1.3" height="12.338000000000001" fill="#25379a"/>
<rect x="144.45" y="321.5" width="1.3" height="3.184" fill="#25379a"/>
<rect x="146.85" y="321.5" width="1.3" height="2.786" fill="#25379a"/>
<rect x="152.25" y="321.5" width="1.3" height="1.99" fill="#25379a"/>
<rect x="157.54999999999998" y="321.5" width="1.3" height="2.388" fill="#d2202e"/>
<rect x="164.25" y="321.5" width="1.3" height="7.561999999999999" fill="#25379a"/>
<rect x="169.95" y="321.5" width="1.3" height="24.676000000000002" fill="#25379a"/>
<rect x="170.54999999999998" y="321.5" width="1.3" height="29.054" fill="#25379a"/>
<rect x="172.35" y="321.5" width="1.3" height="2.786" fill="#25379a"/>
<rect x="176.25" y="321.5" width="1.3" height="9.154" fill="#25379a"/>
<rect x="181.04999999999998" y="321.5" width="1.3" height="1.99" fill="#25379a"/>
<rect x="184.15" y="321.5" width="1.3" height="1.592" fill="#25379a"/>
<rect x="192.35" y="321.5" width="1.3" height="1.99" fill="#d2202e"/>
<rect x="196.35" y="321.5" width="1.3" height="3.98" fill="#25379a"/>
<rect x="198.35" y="321.5" width="1.3" height="1.99" fill="#25379a"/>
<rect x="204.15" y="321.5" width="1.3" height="11.144" fill="#25379a"/>
<rect x="215.85" y="321.5" width="1.3" height="1.99" fill="#25379a"/>
<rect x="219.35" y="321.5" width="1.3" height="5.174" fill="#25379a"/>
<rect x="224.65" y="321.5" width="1.3" height="1.592" fill="#d2202e"/>
<rect x="230.85" y="321.5" width="1.3" height="3.184" fill="#d2202e"/>
<rect x="248.75" y="321.5" width="1.3" height="36.217999999999996" fill="#25379a"/>
<rect x="251.85" y="321.5" width="1.3" height="1.99" fill="#25379a"/>
<rect x="254.15" y="321.5" width="1.3" height="19.502000000000002" fill="#25379a"/>
<rect x="261.05" y="321.5" width="1.3" height="1.99" fill="#25379a"/>
<rect x="272.35" y="321.5" width="1.3" height="1.592" fill="#25379a"/>
<rect x="46.95" y="321.5" width="1.3" height="4.776" fill="#25379a"/>
<rect x="51.85" y="321.5" width="1.3" height="4.776" fill="#25379a"/>
<rect x="57.85" y="321.5" width="1.3" height="3.98" fill="#25379a"/>
<rect x="59.85" y="321.5" width="1.3" height="1.99" fill="#25379a"/>
<rect x="43.65" y="321.5" width="1.3" height="2.786" fill="#25379a"/>
<rect x="47.65" y="321.5" width="1.3" height="12.736" fill="#25379a"/>
<text x="94.6" y="124.9" font-size="10" stroke="#333" stroke-width="0.12" font-style="italic" fill="#333" textLength="16.41" lengthAdjust="spacingAndGlyphs">141</text>
<text x="211" y="153.8" font-size="10" stroke="#333" stroke-width="0.12" font-style="italic" fill="#333" textLength="16.41" lengthAdjust="spacingAndGlyphs">336</text>
<text x="67" y="215.4" font-size="10" stroke="#333" stroke-width="0.12" font-style="italic" fill="#333" textLength="10.94" lengthAdjust="spacingAndGlyphs">68</text>
<text x="96.8" y="211.6" font-size="10" stroke="#333" stroke-width="0.12" font-style="italic" fill="#333" textLength="16.41" lengthAdjust="spacingAndGlyphs">126</text>
<text x="205.4" y="207.8" font-size="10" stroke="#333" stroke-width="0.12" font-style="italic" fill="#333" textLength="16.41" lengthAdjust="spacingAndGlyphs">336</text>
<text x="232.7" y="208.4" font-size="10" stroke="#333" stroke-width="0.12" font-style="italic" fill="#333" textLength="16.41" lengthAdjust="spacingAndGlyphs">348</text>
<text x="41.9" y="280" font-size="10" stroke="#333" stroke-width="0.12" font-style="italic" fill="#333" textLength="10.94" lengthAdjust="spacingAndGlyphs">24</text>
<text x="158.2" y="254.4" font-size="10" stroke="#333" stroke-width="0.12" font-style="italic" fill="#333" textLength="16.41" lengthAdjust="spacingAndGlyphs">252</text>
<text x="40.8" y="346.5" font-size="10" stroke="#333" stroke-width="0.12" font-style="italic" fill="#333" textLength="10.94" lengthAdjust="spacingAndGlyphs">28</text>
<text x="51.5" y="357.3" font-size="10" stroke="#333" stroke-width="0.12" font-style="italic" fill="#333" textLength="10.94" lengthAdjust="spacingAndGlyphs">42</text>
<text x="151.9" y="352.8" font-size="10" stroke="#333" stroke-width="0.12" font-style="italic" fill="#333" textLength="16.41" lengthAdjust="spacingAndGlyphs">241</text>
<text x="171.6" y="352.8" font-size="10" stroke="#333" stroke-width="0.12" font-style="italic" fill="#333" textLength="16.41" lengthAdjust="spacingAndGlyphs">242</text>
</svg>
</body></html>
